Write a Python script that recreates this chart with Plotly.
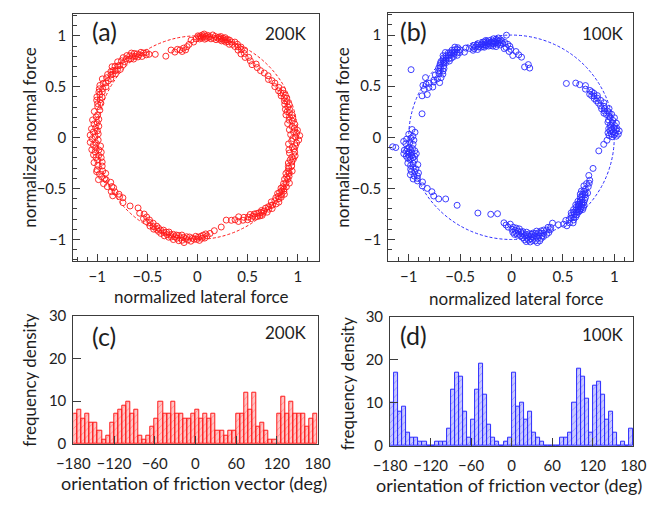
import numpy as np
import plotly.graph_objects as go

W, H = 654, 506
FONT = "Lato"
INK = "#1e1e1e"
FRAME = "#3c3c3c"

# 6-degree orientation bins and counts per bin
BIN_EDGES = np.arange(-180, 181, 6)
COUNT_200K = [7, 8, 6, 7, 5, 5, 3, 1, 2, 5,
              7, 8, 9, 10, 7, 8, 2, 1, 2, 4,
              6, 10, 7, 7, 10, 7, 7, 6, 6, 7,
              8, 6, 7, 6, 7, 3, 3, 2, 3, 3,
              7, 7, 12, 8, 12, 4, 5, 3, 1, 1,
              7, 11, 7, 10, 7, 7, 7, 4, 6, 7]
COUNT_100K = [10, 17, 8, 9, 3, 2, 2, 1, 1, 0,
              0, 1, 1, 1, 4, 13, 17, 16, 8, 2,
              6, 13, 19, 12, 5, 2, 1, 0, 1, 2,
              17, 9, 10, 6, 8, 3, 2, 1, 0, 0,
              0, 0, 2, 2, 3, 10, 18, 16, 11, 3,
              14, 15, 12, 6, 8, 3, 0, 1, 0, 4]

# friction vectors: (orientation in degrees, normalized magnitude)
PTS_200K = [
    (-179.4, 1.05), (-178.6, 0.99), (-177.5, 1.07), (-176.8, 1.01), (-175.9, 1.04), (-175.1, 0.97), (-174.4, 1.02),
    (-173.6, 1.06), (-173.0, 0.99), (-172.2, 1.03), (-171.5, 0.97), (-170.7, 1.05), (-169.9, 1.00), (-169.1, 1.03), (-168.4, 0.98),
    (-167.5, 1.02), (-166.6, 1.06), (-165.8, 0.98), (-164.7, 1.03), (-163.6, 0.99), (-162.5, 1.05),
    (-161.6, 1.06), (-160.8, 1.00), (-159.9, 1.04), (-159.0, 0.98), (-158.1, 1.03), (-157.3, 1.07), (-156.4, 1.01),
    (-155.4, 1.00), (-154.2, 1.04), (-153.1, 0.97), (-151.8, 1.02), (-150.6, 0.98),
    (-149.5, 0.97), (-148.3, 1.01), (-147.0, 0.98), (-145.9, 1.02), (-144.6, 0.96),
    (-143.2, 0.97), (-141.5, 0.95), (-139.3, 0.98),
    (-135.0, 0.95),
    (-130.6, 0.91), (-127.8, 0.94),
    (-125.3, 0.92), (-124.1, 0.96), (-123.0, 0.93), (-121.7, 0.97), (-120.6, 0.94),
    (-119.5, 0.96), (-118.6, 0.99), (-117.7, 0.95), (-116.8, 0.98), (-115.9, 1.00), (-115.0, 0.96), (-114.3, 0.99),
    (-113.6, 0.97), (-112.9, 1.00), (-112.0, 0.98), (-111.2, 1.01), (-110.4, 0.97), (-109.6, 0.99), (-108.9, 1.02), (-108.3, 0.98),
    (-107.6, 1.00), (-107.0, 0.97), (-106.3, 1.02), (-105.6, 0.99), (-104.9, 1.01), (-104.2, 0.98), (-103.5, 1.03), (-102.9, 1.00), (-102.3, 0.98),
    (-101.7, 1.01), (-101.1, 0.98), (-100.4, 1.03), (-99.8, 1.00), (-99.2, 0.97), (-98.6, 1.02), (-98.0, 0.99), (-97.4, 1.04), (-96.8, 1.00), (-96.3, 0.98),
    (-95.5, 1.01), (-94.6, 0.98), (-93.7, 1.02), (-92.8, 0.99), (-91.9, 1.00), (-91.0, 0.97), (-90.3, 1.00),
    (-89.6, 0.98), (-88.9, 1.01), (-88.1, 0.97), (-87.4, 0.99), (-86.6, 0.96), (-85.8, 0.99), (-85.0, 0.95), (-84.3, 0.97),
    (-82.4, 0.95), (-79.6, 0.93),
    (-74.9, 0.91),
    (-70.5, 0.86), (-67.4, 0.88),
    (-65.1, 0.89), (-63.6, 0.92), (-62.2, 0.88), (-60.8, 0.93),
    (-59.4, 0.91), (-58.2, 0.95), (-57.1, 0.93), (-56.0, 0.96), (-55.2, 0.92), (-54.4, 0.95),
    (-53.6, 0.97), (-53.0, 0.94), (-52.3, 0.98), (-51.7, 0.95), (-51.0, 0.99), (-50.4, 0.96), (-49.8, 1.00), (-49.2, 0.97), (-48.7, 0.99), (-48.2, 0.96),
    (-47.4, 0.98), (-46.5, 1.01), (-45.6, 0.97), (-44.7, 1.00), (-43.9, 0.98), (-43.1, 1.02), (-42.4, 0.99),
    (-41.5, 1.00), (-40.6, 0.97), (-39.7, 1.02), (-38.8, 0.99), (-38.0, 1.03), (-37.1, 0.98), (-36.4, 1.01),
    (-35.7, 0.99), (-35.1, 1.02), (-34.5, 0.97), (-33.9, 1.01), (-33.3, 0.98), (-32.7, 1.03), (-32.0, 0.99), (-31.4, 1.01), (-30.8, 0.97), (-30.3, 1.00),
    (-29.5, 0.98), (-28.6, 1.01), (-27.8, 0.97), (-26.9, 0.99), (-26.0, 1.02), (-25.2, 0.96), (-24.4, 0.99),
    (-23.5, 0.97), (-22.7, 0.99), (-21.8, 0.95), (-20.9, 0.98), (-20.1, 0.96), (-19.2, 1.00), (-18.4, 0.96),
    (-17.4, 0.95), (-16.5, 0.98), (-15.4, 0.94), (-14.3, 0.97), (-13.3, 0.95), (-12.4, 0.98),
    (-11.5, 0.96), (-10.4, 0.99), (-9.4, 0.93), (-8.4, 0.98), (-7.5, 0.92), (-6.5, 0.97),
    (-5.6, 0.95), (-4.7, 0.98), (-3.9, 0.91), (-3.0, 0.99), (-2.1, 0.94), (-1.3, 1.01), (-0.5, 0.95),
    (0.4, 0.98), (1.1, 1.02), (1.8, 0.93), (2.6, 0.99), (3.3, 0.96), (4.1, 1.00), (4.8, 0.92), (5.5, 0.97),
    (6.6, 0.95), (7.6, 0.98), (8.7, 0.91), (9.7, 0.96), (10.6, 0.93), (11.5, 0.97),
    (12.5, 0.94), (13.3, 0.97), (14.2, 0.91), (15.0, 0.95), (15.9, 0.93), (16.8, 0.96), (17.6, 0.92),
    (18.5, 0.95), (19.5, 0.97), (20.6, 0.93), (21.6, 0.96), (22.6, 0.94), (23.5, 0.97),
    (24.4, 0.95), (25.3, 0.97), (26.2, 0.93), (27.0, 0.96), (27.9, 0.94), (28.8, 0.97), (29.6, 0.93),
    (31.2, 0.95), (33.0, 0.92), (34.8, 0.94),
    (37.0, 0.93), (38.9, 0.91), (40.8, 0.93),
    (43.6, 0.92), (46.3, 0.91),
    (49.1, 0.91), (51.0, 0.93), (52.8, 0.90),
    (55.0, 0.92), (57.0, 0.94), (58.9, 0.92),
    (60.5, 0.95), (61.3, 0.98), (62.2, 0.93), (63.1, 0.97), (64.0, 0.99), (64.8, 0.95), (65.6, 0.98),
    (66.5, 1.00), (67.4, 0.97), (68.3, 1.01), (69.2, 0.98), (70.0, 1.00), (70.9, 0.97), (71.6, 1.01),
    (72.3, 0.99), (72.8, 1.01), (73.3, 0.98), (73.8, 1.00), (74.3, 1.02), (74.8, 0.99), (75.3, 1.01), (75.8, 0.98), (76.3, 1.00), (76.8, 1.02), (77.3, 0.99), (77.8, 1.01),
    (78.4, 1.00), (79.1, 0.98), (79.9, 1.01), (80.6, 0.99), (81.4, 1.02), (82.1, 0.98), (82.9, 1.00), (83.6, 0.99),
    (84.2, 1.01), (84.7, 0.98), (85.2, 1.00), (85.7, 0.97), (86.2, 1.02), (86.7, 0.99), (87.2, 1.01), (87.7, 0.98), (88.2, 1.00), (88.7, 0.97), (89.2, 0.99), (89.7, 1.00),
    (90.8, 0.97), (92.3, 0.94), (93.8, 0.96), (95.2, 0.92),
    (96.6, 0.90), (97.8, 0.87), (99.0, 0.89), (100.2, 0.86), (101.4, 0.88),
    (103.0, 0.89), (105.0, 0.87), (107.0, 0.90),
    (111.5, 0.86),
    (117.2, 0.92),
    (120.5, 0.95), (121.3, 0.98), (122.1, 0.96), (123.0, 0.99), (123.9, 1.01), (124.7, 0.97), (125.5, 1.00),
    (126.3, 1.02), (126.8, 0.99), (127.3, 1.04), (127.9, 1.01), (128.4, 1.06), (129.0, 1.03), (129.5, 1.00), (130.0, 1.05), (130.6, 1.02), (131.1, 1.07), (131.6, 1.03),
    (132.5, 1.05), (133.3, 1.08), (134.2, 1.04), (135.1, 1.07), (136.0, 1.03), (136.9, 1.09), (137.6, 1.05),
    (138.3, 1.06), (138.9, 1.02), (139.5, 1.08), (140.1, 1.04), (140.7, 1.10), (141.3, 1.05), (141.9, 1.07), (142.5, 1.03), (143.1, 1.08), (143.7, 1.05),
    (144.5, 1.06), (145.3, 1.09), (146.2, 1.04), (147.0, 1.08), (147.9, 1.05), (148.7, 1.11), (149.5, 1.06),
    (150.4, 1.08), (151.3, 1.04), (152.2, 1.10), (153.0, 1.06), (153.9, 1.09), (154.7, 1.05), (155.5, 1.08),
    (156.5, 1.06), (157.3, 1.03), (158.2, 1.08), (159.0, 1.04), (159.9, 1.07), (160.7, 1.02), (161.5, 1.05),
    (163.0, 1.04), (164.5, 1.01), (166.0, 1.06), (167.3, 1.02),
    (168.6, 1.03), (169.6, 1.00), (170.6, 1.06), (171.6, 1.01), (172.6, 1.04), (173.5, 0.99),
    (174.5, 1.02), (175.3, 1.06), (176.2, 1.00), (177.0, 1.04), (177.9, 0.99), (178.7, 1.07), (179.5, 1.02),
]

PTS_100K = [
    (-179.5, 0.98), (-179.0, 1.02), (-178.3, 0.95), (-177.8, 1.05), (-177.1, 0.99), (-176.5, 1.03), (-175.9, 0.96), (-175.4, 1.16), (-174.9, 1.13), (-174.3, 1.00),
    (-173.8, 1.02), (-173.5, 0.97), (-173.1, 1.05), (-172.8, 0.99), (-172.4, 1.03), (-172.0, 0.95), (-171.7, 1.01), (-171.3, 1.06), (-170.9, 0.98),
    (-170.6, 1.02), (-170.2, 0.94), (-169.8, 1.04), (-169.5, 0.99), (-169.1, 1.01), (-168.8, 0.96), (-168.5, 1.03), (-168.2, 0.98),
    (-167.5, 1.01), (-166.7, 0.97), (-165.9, 1.04), (-165.1, 0.99), (-164.3, 1.02), (-163.6, 0.95), (-162.9, 1.00), (-162.3, 1.03),
    (-161.6, 0.98), (-161.0, 1.03), (-160.3, 1.00), (-159.6, 1.05), (-158.9, 0.97), (-158.2, 1.02), (-157.6, 0.99), (-156.9, 1.04), (-156.3, 1.00),
    (-155.0, 1.01), (-153.2, 0.97), (-151.3, 0.99),
    (-148.6, 0.96), (-145.5, 0.94),
    (-142.8, 0.95), (-139.6, 0.93),
    (-136.7, 0.88),
    (-128.5, 0.85),
    (-113.8, 0.81),
    (-105.0, 0.78),
    (-100.3, 0.76),
    (-95.0, 0.84), (-93.5, 0.86), (-92.1, 0.88), (-90.8, 0.85),
    (-89.7, 0.90), (-89.2, 0.93), (-88.8, 0.88), (-88.3, 0.95), (-87.8, 0.91), (-87.4, 0.94), (-86.9, 0.89),
    (-86.5, 0.96), (-86.0, 0.92), (-85.6, 0.95), (-85.1, 0.90), (-84.7, 0.97), (-84.3, 0.93),
    (-83.8, 0.95), (-83.5, 0.99), (-83.1, 0.93), (-82.8, 1.01), (-82.4, 0.97), (-82.0, 1.03), (-81.7, 0.96), (-81.3, 1.00), (-81.0, 0.94),
    (-80.6, 1.02), (-80.2, 0.98), (-79.9, 1.04), (-79.5, 0.96), (-79.2, 1.01), (-78.8, 0.99), (-78.5, 1.03), (-78.2, 0.97),
    (-77.8, 1.00), (-77.4, 0.96), (-77.0, 1.04), (-76.7, 0.99), (-76.3, 1.06), (-75.9, 0.97), (-75.5, 1.02), (-75.1, 0.95),
    (-74.8, 1.05), (-74.4, 1.00), (-74.0, 0.97), (-73.6, 1.03), (-73.3, 0.98), (-72.9, 1.01), (-72.5, 0.96), (-72.2, 1.02),
    (-71.6, 0.99), (-70.9, 0.96), (-70.2, 1.01), (-69.4, 0.97), (-68.7, 1.00), (-68.0, 0.95), (-67.3, 0.98), (-66.6, 0.96),
    (-64.6, 0.93), (-61.9, 0.97),
    (-59.2, 0.99), (-58.1, 1.02), (-57.0, 0.97), (-56.0, 1.01), (-55.1, 0.98), (-54.4, 1.03),
    (-53.7, 0.98), (-53.2, 1.01), (-52.8, 0.96), (-52.3, 0.99), (-51.8, 0.94), (-51.4, 1.00), (-50.9, 0.97),
    (-50.5, 0.95), (-50.0, 0.99), (-49.5, 0.93), (-49.1, 0.97), (-48.7, 0.95), (-48.3, 0.98),
    (-47.8, 0.96), (-47.5, 0.93), (-47.2, 0.98), (-46.9, 0.95), (-46.6, 0.91), (-46.3, 0.97), (-46.0, 0.94), (-45.6, 0.99), (-45.3, 0.92), (-45.0, 0.96),
    (-44.7, 0.93), (-44.4, 0.98), (-44.1, 0.90), (-43.8, 0.95), (-43.5, 0.92), (-43.2, 0.97), (-42.9, 0.94), (-42.6, 0.91), (-42.3, 0.95),
    (-41.7, 0.92), (-41.2, 0.89), (-40.7, 0.94), (-40.2, 0.90), (-39.7, 0.87), (-39.2, 0.93),
    (-38.7, 0.89), (-38.2, 0.91), (-37.7, 0.86), (-37.2, 0.90), (-36.8, 0.88), (-36.4, 0.92),
    (-35.2, 0.88), (-34.0, 0.85), (-32.9, 0.89), (-31.8, 0.86), (-30.7, 0.88),
    (-28.9, 0.87), (-26.4, 0.84),
    (-21.0, 0.85),
    (-8.9, 0.86),
    (-4.4, 0.90), (-1.8, 0.93),
    (0.3, 0.98), (0.6, 1.02), (1.0, 0.95), (1.3, 1.00), (1.7, 1.04), (2.0, 0.97), (2.4, 1.01), (2.7, 0.94), (3.1, 0.99),
    (3.4, 1.05), (3.8, 0.96), (4.1, 1.02), (4.5, 0.98), (4.8, 1.03), (5.1, 0.95), (5.4, 1.00), (5.7, 0.97),
    (6.5, 1.01), (7.1, 0.97), (7.7, 1.03), (8.3, 0.99), (8.9, 0.95), (9.5, 1.00), (10.1, 0.96), (10.8, 1.02), (11.5, 0.98),
    (12.4, 0.97), (13.0, 1.00), (13.6, 0.95), (14.1, 0.98), (14.7, 0.93), (15.3, 0.97), (15.9, 0.94), (16.5, 0.99), (17.1, 0.95), (17.6, 0.92),
    (18.6, 0.95), (19.6, 0.92), (20.6, 0.96), (21.6, 0.91), (22.6, 0.94), (23.4, 0.90),
    (24.5, 0.92), (25.2, 0.89), (26.0, 0.93), (26.7, 0.90), (27.5, 0.88), (28.2, 0.91), (29.0, 0.87), (29.6, 0.90),
    (31.0, 0.89), (33.2, 0.86), (35.1, 0.88),
    (37.8, 0.84), (40.3, 0.82),
    (44.6, 0.75),
    (75.3, 0.70), (77.0, 0.73),
    (79.5, 0.70), (82.9, 0.79),
    (85.0, 0.81), (87.0, 0.84), (89.1, 0.80),
    (90.4, 0.86), (91.0, 0.89), (91.6, 0.84), (92.2, 0.91), (92.8, 1.00), (93.4, 0.88), (94.0, 0.93), (94.6, 0.87), (95.2, 0.92), (95.7, 0.95),
    (96.2, 0.93), (96.5, 0.96), (96.9, 0.91), (97.2, 0.95), (97.5, 0.98), (97.9, 0.93), (98.2, 0.96), (98.5, 0.92), (98.9, 0.97),
    (99.2, 0.94), (99.6, 0.90), (99.9, 0.95), (100.2, 0.98), (100.6, 0.93), (100.9, 0.96), (101.2, 0.94), (101.5, 0.91), (101.8, 0.95),
    (102.2, 0.95), (102.6, 0.92), (102.9, 0.97), (103.3, 0.94), (103.7, 0.96), (104.0, 0.92), (104.4, 0.95), (104.8, 0.98),
    (105.2, 0.93), (105.5, 0.96), (105.9, 0.94), (106.3, 0.97), (106.7, 0.92), (107.0, 0.95), (107.4, 0.93), (107.7, 0.96),
    (108.3, 0.95), (108.8, 0.93), (109.4, 0.97), (109.9, 0.94), (110.5, 0.96), (111.0, 0.92),
    (111.6, 0.95), (112.1, 0.97), (112.7, 0.94), (113.2, 0.96), (113.7, 0.93),
    (115.2, 0.96), (117.0, 0.98), (118.8, 0.95),
    (120.3, 0.99), (120.8, 1.02), (121.2, 0.97), (121.6, 1.01), (122.0, 1.04), (122.5, 0.98), (122.9, 1.02),
    (123.3, 0.96), (123.7, 1.00), (124.2, 1.03), (124.6, 0.99), (125.0, 1.01), (125.4, 0.97), (125.8, 1.02),
    (126.2, 1.00), (126.6, 1.03), (127.0, 0.97), (127.4, 1.01), (127.8, 1.05), (128.2, 0.98), (128.6, 1.02), (129.0, 0.96),
    (129.4, 1.00), (129.8, 1.04), (130.2, 0.99), (130.6, 1.02), (131.0, 0.97), (131.4, 1.01), (131.8, 0.99),
    (132.3, 0.98), (132.8, 1.01), (133.3, 0.96), (133.8, 1.00), (134.3, 0.94), (134.8, 0.99),
    (135.3, 0.97), (135.8, 0.93), (136.3, 0.98), (136.8, 0.95), (137.2, 0.91), (137.7, 0.96),
    (138.6, 0.94), (139.6, 0.90), (140.6, 0.96), (141.6, 0.92), (142.6, 0.88), (143.5, 0.94),
    (144.4, 0.93), (145.1, 1.02), (145.9, 1.18), (146.6, 0.96), (147.3, 0.91), (148.0, 0.98), (148.8, 0.94), (149.5, 1.00),
    (151.0, 0.97), (153.0, 0.92), (155.0, 0.96),
    (165.2, 0.90),
    (175.5, 0.97), (177.0, 0.94), (178.3, 1.00), (179.4, 0.96),
]

RED = "#ff1a1a"
BLUE = "#2b2bff"


def to_xy(points):
    ang, rad = np.array(points).T
    t = np.deg2rad(ang)
    return rad * np.cos(t), rad * np.sin(t)


def px_dom(a, b, size):
    return [a / size, b / size]


def py_dom(top, bottom):
    return [1 - bottom / H, 1 - top / H]


fig = go.Figure()

xa, ya = to_xy(PTS_200K)
xb, yb = to_xy(PTS_100K)
fig.add_trace(go.Scatter(x=xa, y=ya, mode="markers", xaxis="x", yaxis="y",
                         marker=dict(symbol="circle-open", size=6, color=RED,
                                     opacity=0.9, line=dict(width=1, color=RED))))
fig.add_trace(go.Scatter(x=xb, y=yb, mode="markers", xaxis="x2", yaxis="y2",
                         marker=dict(symbol="circle-open", size=6, color=BLUE,
                                     opacity=0.9, line=dict(width=1, color=BLUE))))

centers = (BIN_EDGES[:-1] + BIN_EDGES[1:]) / 2
for counts, col, fill, ax, ay in [
    (COUNT_200K, RED, "rgba(255,90,90,0.35)", "x3", "y3"),
    (COUNT_100K, BLUE, "rgba(90,90,255,0.33)", "x4", "y4"),
]:
    fig.add_trace(go.Bar(
        x=centers, y=counts, width=6, xaxis=ax, yaxis=ay,
        marker=dict(color=fill, line=dict(color=col, width=1),
                    pattern=dict(shape="/", fillmode="overlay", fgcolor=col,
                                 size=5, solidity=0.12)),
    ))

tickfont = dict(family=FONT, size=15, color=INK)


def scatter_axis(domain, rng, standoff, **kw):
    return dict(domain=domain, range=rng, showgrid=False, zeroline=False,
                showline=True, mirror=True, linecolor=FRAME, linewidth=1,
                ticks="inside", ticklen=7, tickwidth=1, tickcolor=FRAME,
                tick0=0, dtick=0.5, tickfont=tickfont, ticklabelstandoff=standoff,
                minor=dict(ticks="inside", ticklen=4, tickwidth=1, tickcolor=FRAME,
                           tick0=0, dtick=0.1, showgrid=False), **kw)


def hist_axis(domain, rng, dtick, standoff, **kw):
    return dict(domain=domain, range=rng, showgrid=False, zeroline=False,
                showline=True, mirror=True, linecolor=FRAME, linewidth=1,
                ticks="inside", ticklen=8, tickwidth=1, tickcolor=FRAME,
                tick0=0, dtick=dtick, tickfont=tickfont, ticklabelstandoff=standoff, **kw)


layout = dict(
    width=W, height=H, margin=dict(l=0, r=0, t=0, b=0),
    paper_bgcolor="white", plot_bgcolor="white", showlegend=False,
    bargap=0,
    font=dict(family=FONT, color=INK),
    xaxis=scatter_axis(px_dom(59, 316, W), [-1.238, 1.207], 2, anchor="y"),
    yaxis=scatter_axis(py_dom(4, 260), [-1.21, 1.216], 3, anchor="x"),
    xaxis2=scatter_axis(px_dom(389, 646, W), [-1.2, 1.186], 2, anchor="y2"),
    yaxis2=scatter_axis(py_dom(3, 260), [-1.208, 1.217], 3, anchor="x2"),
    xaxis3=hist_axis(px_dom(59, 315, W), [-180, 180], 60, 6, anchor="y3"),
    yaxis3=hist_axis(py_dom(317, 450), [0, 30], 10, 3, anchor="x3"),
    xaxis4=hist_axis(px_dom(391, 646, W), [-180, 180], 60, 6, anchor="y4"),
    yaxis4=hist_axis(py_dom(318, 452), [0, 30], 10, 3, anchor="x4"),
)
fig.update_layout(**layout)

# unit reference circles
fig.add_shape(type="circle", xref="x", yref="y", x0=-1, y0=-1, x1=1, y1=1,
              line=dict(color=RED, width=1, dash="3px,2px"), layer="below")
fig.add_shape(type="circle", xref="x2", yref="y2", x0=-1, y0=-1, x1=1, y1=1,
              line=dict(color=BLUE, width=1, dash="3px,2px"), layer="below")


def label(text, px, py, size, xanchor="center", angle=0):
    fig.add_annotation(text=text, x=px / W, y=1 - py / H, xref="paper", yref="paper",
                       xanchor=xanchor, yanchor="middle", showarrow=False, textangle=angle,
                       font=dict(family=FONT, size=size, color=INK))


# panel tags and temperatures
label("(a)", 77, 22, 25, "left")
label("200K", 306, 24, 17, "right")
label("(b)", 399, 22, 25, "left")
label("100K", 638, 24, 17, "right")
label("(c)", 76, 338, 25, "left")
label("200K", 306, 334, 17, "right")
label("(d)", 399, 337, 25, "left")
label("100K", 638, 336, 17, "right")

# axis titles
label("normalized lateral force", 193, 297, 17)
label("normalized normal force", 13, 132, 17, angle=-90)
label("normalized lateral force", 523, 299, 17)
label("normalized normal force", 341, 132, 17, angle=-90)
label("orientation of friction vector (deg)", 186, 490, 18)
label("frequency density", 13, 383, 17, angle=-90)
label("orientation of friction vector (deg)", 516, 493, 18)
label("frequency density", 346, 387, 17, angle=-90)

fig.write_html("out.html")
